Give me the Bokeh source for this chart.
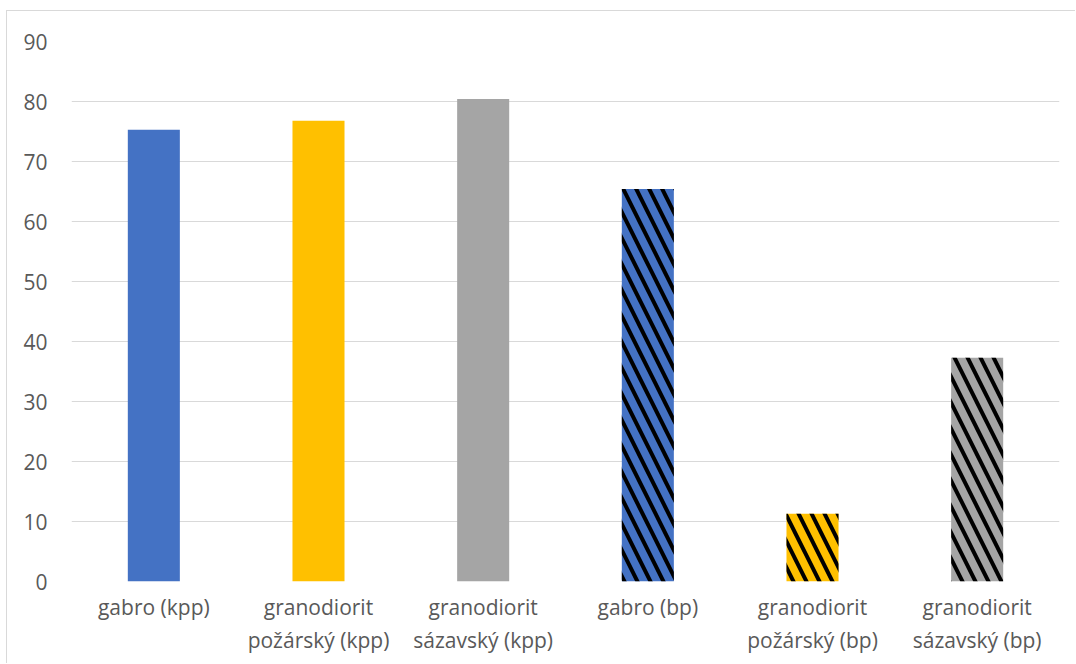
from bokeh.plotting import figure
from bokeh.models import ColumnDataSource, FixedTicker
from bokeh.embed import file_html
from bokeh.resources import INLINE

# Categories (two-line labels), measured values and styling per bar
categories = [
    "gabro (kpp)",
    "granodiorit\npožárský (kpp)",
    "granodiorit\nsázavský (kpp)",
    "gabro (bp)",
    "granodiorit\npožárský (bp)",
    "granodiorit\nsázavský (bp)",
]
values = [75.3, 76.8, 80.4, 65.4, 11.3, 37.3]
colors = ["#4472C4", "#FFC000", "#A5A5A5", "#4472C4", "#FFC000", "#A5A5A5"]
hatches = [" ", " ", " ", "\\", "\\", "\\"]
y_ticks = [0, 10, 20, 30, 40, 50, 60, 70, 80, 90]

source = ColumnDataSource(dict(cat=categories, val=values, color=colors, hatch=hatches))

p = figure(
    x_range=categories,
    y_range=(0, 90),
    width=1069,
    height=653,
    output_backend="svg",
    toolbar_location=None,
    min_border_left=64,
    min_border_right=17,
    min_border_top=30,
    min_border_bottom=83,
)
p.styles = {
    "margin-left": "6px",
    "margin-top": "10px",
    "border-left": "1px solid #d9d9d9",
    "border-top": "1px solid #d9d9d9",
}
p.outline_line_color = None
p.background_fill_color = "white"
p.border_fill_color = "white"

p.vbar(
    x="cat",
    top="val",
    width=0.316,
    source=source,
    fill_color="color",
    line_color=None,
    hatch_pattern="hatch",
    hatch_color="black",
    hatch_scale=26,
    hatch_weight=4,
)

p.xgrid.grid_line_color = None
p.ygrid.grid_line_color = "#d9d9d9"
p.ygrid.grid_line_width = 1
p.yaxis.ticker = FixedTicker(ticks=y_ticks)

for ax in (p.xaxis, p.yaxis):
    ax.axis_line_color = None
    ax.major_tick_line_color = None
    ax.minor_tick_line_color = None
    ax.major_tick_out = 0
    ax.major_tick_in = 0
    ax.major_label_text_font = "Open Sans"
    ax.major_label_text_font_size = "21px"
    ax.major_label_text_color = "#595959"

p.yaxis.major_label_standoff = 24
p.xaxis.major_label_standoff = 11
p.x_range.range_padding = 0

open("out.html", "w").write(file_html(p, INLINE))
